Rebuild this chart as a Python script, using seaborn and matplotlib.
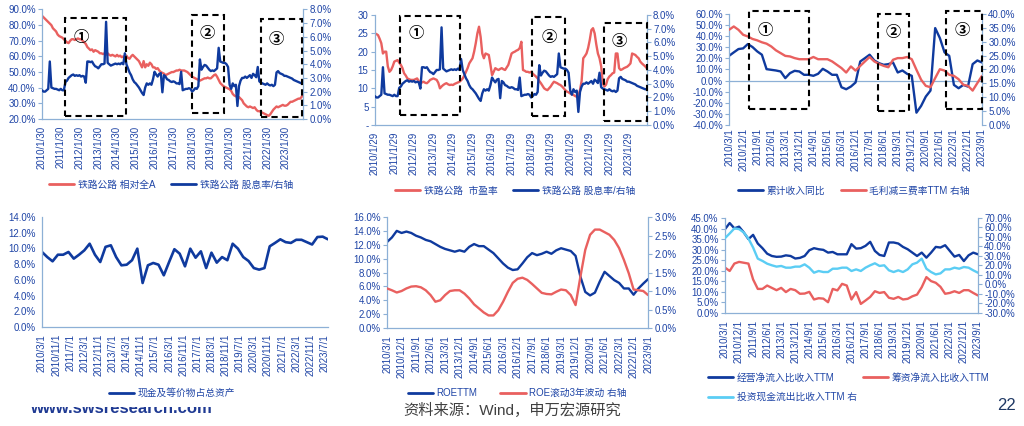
import numpy as np
import matplotlib
matplotlib.use('Agg')
import matplotlib.pyplot as plt
import seaborn as sns
from matplotlib.ticker import FuncFormatter
from matplotlib.patches import Rectangle
from matplotlib.lines import Line2D

# ---------------- data ----------------
# monthly 2010/1 .. 2023/12
years_p12 = ['2010', '2011', '2012', '2013', '2014', '2015', '2016', '2017',
             '2018', '2019', '2020', '2021', '2022', '2023']
p1_xlabels = [y + '/1/30' for y in years_p12]
p2_xlabels = [y + '/1/29' for y in years_p12]

rel_all_a = [  # 铁路公路 相对全A (%)
    86, 85, 84, 83, 82, 81, 80, 78, 77, 76, 74, 73,
    72.5, 72, 71, 70, 69, 68.5, 70, 71, 71, 70.5, 71, 71.5,
    71, 71, 70, 69, 68, 66, 65, 64, 64.5, 63, 64, 63.5,
    63, 62, 62, 61.5, 62, 61, 62, 61, 60.5, 61, 60.5, 60,
    61, 60, 60.5, 59.5, 60, 59, 60.5, 59, 58.5, 60, 61, 60,
    59, 58, 57, 55, 53, 57, 53, 55, 54, 56, 55, 53,
    53, 52, 52.5, 51, 50, 49.5, 49, 48, 48.5, 49, 49.5, 50,
    50, 50.5, 51, 51, 51.5, 51, 51, 51, 50.5, 50, 49, 48,
    47, 46.5, 46, 45.5, 45, 44.5, 45, 45.5, 46, 46, 46.5, 46,
    46, 47, 48, 48.5, 47, 45, 43, 42, 41, 40.5, 40, 39.5,
    39, 38, 36, 35, 34.5, 34, 34, 33, 32, 30, 29, 28,
    27.5, 28, 27.5, 27, 27.5, 26, 25, 25, 24.5, 24, 23.5, 23,
    22.5, 22, 23, 24.5, 26, 27, 28, 27.5, 28, 28.5, 29, 28.5,
    28.5, 29, 30, 31, 31, 31.5, 32, 32.5, 33, 33, 34, 36]

div_yield = [  # 铁路公路 股息率 (%)
    2.1, 2.0, 2.0, 2.1, 2.2, 4.2, 2.3, 2.25, 2.2, 2.2, 2.15, 2.1,
    2.2, 2.1, 2.1, 2.7, 2.8, 3.0, 3.1, 3.2, 3.25, 3.15, 3.2, 3.15,
    3.2, 3.1, 3.15, 3.1, 2.65, 4.2, 4.2, 4.15, 4.2, 4.0, 3.85, 3.8,
    3.7, 3.85, 4.0, 4.0, 4.05, 7.1, 4.1, 4.0, 3.9, 3.95, 4.0, 4.05,
    4.0, 4.05, 4.0, 4.1, 4.0, 4.8, 4.0, 3.7, 3.4, 3.2, 2.9, 2.7,
    2.6, 2.45, 2.3, 2.1, 1.9, 1.75, 2.3, 2.6, 2.5, 2.6, 2.5, 2.9,
    3.45, 3.25, 3.1, 3.3, 3.35, 1.95, 3.2, 3.1, 2.9, 2.85, 2.75, 2.7,
    2.75, 2.7, 2.6, 2.6, 2.55, 3.45, 2.1, 2.15, 2.2, 2.2, 2.25, 2.2,
    2.0, 2.1, 2.25, 2.2, 2.4, 4.35, 3.6, 3.8, 3.95, 3.9, 3.75, 3.6,
    3.5, 3.55, 3.5, 3.6, 3.7, 5.2, 4.2, 4.15, 4.1, 4.1, 4.0, 3.8,
    2.5, 2.2, 2.6, 2.4, 2.5, 0.95, 2.4, 2.8, 3.0, 3.0, 3.1, 3.0,
    3.1, 3.2, 3.0, 3.3, 3.2, 3.05, 3.8, 2.75, 2.65, 2.6, 2.55, 2.5,
    2.6, 2.5, 2.45, 2.5, 2.4, 2.5, 3.4, 3.5, 3.35, 3.3, 3.25, 3.15,
    3.15, 3.1, 3.05, 3.0, 2.95, 2.85, 2.8, 2.75, 2.7, 2.65, 2.6, 2.6]

pe_ratio = [  # 铁路公路 市盈率
    25, 24.8, 24.5, 23.5, 22.3, 19.5, 20, 20, 16, 14.5, 15, 16,
    17.3, 17.5, 17.7, 17, 16.4, 15.5, 14.1, 13.5, 12.7, 12.5, 12.3, 12.3,
    12.3, 12.5, 12.7, 12, 11.4, 11.6, 11.8, 11.5, 11.4, 11.8, 12.3, 12.5,
    12.7, 12.5, 12.3, 11.5, 10, 10.5, 10.9, 11.2, 11.4, 11.1, 10.9, 11,
    10.9, 11.2, 11.4, 11.6, 11.8, 12.2, 12.7, 13.5, 14.5, 15.5, 16.8, 17.5,
    18.2, 20, 22.3, 25, 26.8, 24, 19.5, 18.2, 19.5, 19.3, 19.1, 16.5,
    13.6, 14.5, 15.5, 15.2, 15, 15.3, 15.5, 15.2, 15, 15.7, 16.4, 18,
    19.5, 19.8, 20, 20.3, 20.5, 21, 22.7, 15, 14.8, 14.5, 14.5, 14.3,
    14.5, 14, 13.6, 13.2, 12.7, 12, 11.4, 10.7, 10, 9.7, 9.5, 10,
    10.5, 11.2, 11.8, 11.6, 11.4, 11.1, 10.9, 10.5, 10, 9.5, 9.1, 8.9,
    8.6, 8.4, 8.2, 7.9, 7.7, 8.0, 9.5, 12, 18.2, 18.8, 19.5, 21,
    23.2, 25.9, 26.4, 25, 22, 19.5, 18.2, 16, 11.4, 10.5, 11, 12.5,
    13.2, 13.6, 14.1, 14.3, 19.5, 19.5, 15.5, 15, 15.2, 15.5, 15.7, 15.9,
    16.3, 16.8, 19.5, 19.3, 19.1, 18.6, 18.2, 17.3, 16.8, 16.4, 16, 15.5]

# quarterly 2010/3 .. 2023/9 (55 points)
q_xlabels = ['2010/3/1', '2010/12/1', '2011/9/1', '2012/6/1', '2013/3/1',
             '2013/12/1', '2014/9/1', '2015/6/1', '2016/3/1', '2016/12/1',
             '2017/9/1', '2018/6/1', '2019/3/1', '2019/12/1', '2020/9/1',
             '2021/6/1', '2022/3/1', '2022/12/1', '2023/9/1']

rev_yoy = [  # 累计收入同比 (%)
    22.3, 25.4, 28.4, 29, 32.9, 30.2, 26.3, 23.3, 10.3, 9.7, 9.1, 8.2,
    2.2, 6.7, 8.8, 8.2, 5.2, 5.2, 4.3, 6.1, 10.6, 8.2, 5.2, 5.2,
    -6, -7.8, -5.4, -1.7, 17.2, 20.2, 23.3, 18.1, 15.7, 14.2, 14.8, 16.3,
    7.3, 9.1, 6.1, 4.3, -28.9, -22.8, -14.4, -9, 47.3, 38.3, 25.4, 22.3,
    -3.9, -6.9, -3.9, -5.4, 14.8, 18.1, 16.3]
margin_ttm = [  # 毛利减三费率TTM (%)
    34.3, 35.5, 34.3, 32.5, 31.9, 31, 30.5, 29.8, 29.3, 28.3, 26.9, 25.9,
    24.9, 24.7, 24.1, 23.7, 23.7, 23.7, 24.5, 23.7, 23.7, 23.7, 22.9, 21.7,
    20.5, 18.9, 21.1, 19.6, 21.3, 22.9, 24.5, 22.9, 22, 21.3, 20.8, 23.5,
    24.1, 24.1, 24.5, 23.7, 19.9, 16.3, 14.1, 13.6, 16.9, 20.1, 19.6, 18.1,
    17.7, 16.5, 14.5, 14.1, 12.4, 15.1, 17.7]

p4_xlabels = ['2010/3/1', '2010/11/1', '2011/7/1', '2012/3/1', '2012/11/1',
              '2013/7/1', '2014/3/1', '2014/11/1', '2015/7/1', '2016/3/1',
              '2016/11/1', '2017/7/1', '2018/3/1', '2018/11/1', '2019/7/1',
              '2020/3/1', '2020/11/1', '2021/7/1', '2022/3/1', '2022/11/1',
              '2023/7/1']
cash_ratio = [  # 现金及等价物占总资产 (%)
    9.55, 8.9, 8.36, 9.2, 9.2, 9.55, 8.7, 9.2, 9.76, 10.6, 9.2, 8.27,
    10.2, 10.4, 8.9, 7.85, 7.93, 8.5, 9.97, 5.6, 7.85, 8.15, 7.93, 6.58,
    8.27, 9.9, 9.33, 7.72, 9.97, 8.82, 9.63, 7.5, 9.46, 8.19, 8.9, 8.5,
    10.6, 9.97, 8.9, 8.4, 7.5, 7.3, 7.5, 10.27, 10.7, 11.16, 10.8, 10.7,
    11.1, 11.1, 10.8, 10.5, 11.45, 11.5, 11.16]

roe_ttm = [  # ROETTM (%)
    12.4, 13.05, 14.0, 13.7, 13.9, 13.7, 13.3, 13.05, 12.7, 12.5, 12.1, 11.7,
    11.4, 11.2, 11.0, 11.2, 11.0, 11.7, 12.1, 11.8, 11.8, 11.3, 10.8, 10.05,
    9.3, 8.7, 8.36, 8.46, 9.3, 10.2, 10.8, 10.5, 10.7, 11.0, 10.7, 11.2,
    11.5, 11.3, 11.1, 10.4, 7.4, 5.2, 4.7, 5.1, 6.7, 8.1, 7.5, 6.9,
    6.5, 5.7, 5.7, 4.8, 5.7, 6.4, 7.05]
roe_vol = [  # ROE滚动3年波动 (%)
    1.07, 1.02, 0.96, 1.0, 1.07, 1.12, 1.13, 1.1, 1.02, 0.89, 0.71, 0.75,
    0.89, 1.0, 1.02, 1.02, 0.93, 0.8, 0.64, 0.53, 0.42, 0.34, 0.34, 0.48,
    0.71, 0.98, 1.22, 1.33, 1.36, 1.3, 1.19, 1.07, 0.95, 0.92, 0.91, 0.98,
    1.04, 1.02, 0.89, 0.62, 1.39, 2.11, 2.52, 2.66, 2.66, 2.59, 2.52, 2.38,
    2.16, 1.84, 1.48, 1.04, 1.02, 1.0, 0.89]

op_cf = [  # 经营净流入比收入TTM (%)
    39.7, 42.6, 40.1, 40.9, 38.2, 35.0, 37.0, 32.9, 30.7, 28.1, 27.0, 26.6,
    26.7, 27.3, 27.0, 25.8, 26.1, 27.0, 29.7, 30.7, 30.2, 29.9, 28.6, 28.9,
    27.8, 27.8, 27.8, 32.6, 30.5, 30.7, 31.8, 33.7, 29.4, 27.5, 27.0, 33.4,
    33.4, 32.9, 31.3, 30.2, 28.6, 27.0, 28.6, 26.2, 28.6, 31.3, 31.0, 32.1,
    29.4, 26.7, 27.5, 24.6, 27.3, 28.6, 27.8]
fin_cf = [  # 筹资净流入比收入TTM (%)
    21.5, 19.9, 23.4, 24.2, 23.8, 23.4, 15.9, 11.4, 11.4, 13.0, 11.9, 10.8,
    11.9, 9.9, 11.4, 10.8, 9.1, 9.2, 10.0, 6.4, 7.0, 6.8, 5.1, 11.4,
    10.7, 13.8, 13.0, 6.4, 9.9, 4.3, 5.9, 7.6, 10.3, 9.5, 9.9, 7.2,
    6.7, 7.6, 6.4, 6.7, 7.9, 8.7, 12.2, 17.0, 15.1, 14.3, 12.4, 9.1,
    9.5, 10.3, 9.5, 10.8, 10.8, 9.5, 8.3]
inv_cf = [  # 投资现金流出比收入TTM (%)
    48.8, 53.7, 59.0, 58.3, 54.8, 48.4, 38.9, 27.2, 24.8, 21.9, 20.2, 18.8,
    19.5, 17.7, 17.7, 18.8, 18.8, 21.2, 17.7, 12.4, 14.2, 13.1, 13.1, 16.6,
    16.6, 17.7, 17.7, 14.2, 15.9, 14.2, 17.7, 20.2, 22.3, 19.5, 20.2, 14.9,
    13.1, 14.9, 13.1, 15.9, 21.2, 23.0, 27.2, 16.6, 13.1, 10.6, 11.7, 15.9,
    15.9, 17.7, 16.6, 18.4, 17.7, 14.9, 12.4]

# ---------------- style ----------------
sns.set_theme(style='white')
plt.rcParams['font.family'] = ['Liberation Sans', 'Noto Sans CJK SC', 'DejaVu Sans']
plt.rcParams['axes.unicode_minus'] = False

TXT = '#1F45A6'
SPINE = '#8DB0D6'
NAVY = '#0F3A9E'
RED = '#E9605F'
LBLUE = '#5BCDF4'
FS = 7

fig = plt.figure(figsize=(10.24, 4.26), dpi=100)
fig.patch.set_facecolor('white')


def pct(dec):
    return FuncFormatter(lambda v, p: f'{v:.{dec}f}%')


def style_y(ax, lo, hi, step, fmt):
    ax.set_ylim(lo, hi)
    ax.set_yticks(np.arange(lo, hi + step / 2, step))
    ax.yaxis.set_major_formatter(fmt)
    ax.tick_params(axis='y', length=3, width=0.8, color=SPINE, labelcolor=TXT,
                   labelsize=FS, pad=1.5, direction='out')
    ax.set_ylabel('')


def style_x(ax, lo, hi, ticks, labels):
    ax.set_xlim(lo, hi)
    ax.set_xticks(ticks)
    ax.set_xticklabels(labels, rotation=90)
    ax.tick_params(axis='x', length=3, width=0.8, color=SPINE, labelcolor=TXT,
                   labelsize=FS, pad=2, direction='out')
    ax.set_xlabel('')


def spines(ax, left=True, right=False, bottom=True):
    for k, v in (('left', left), ('right', right), ('bottom', bottom), ('top', False)):
        ax.spines[k].set_visible(v)
        ax.spines[k].set_color(SPINE)
        ax.spines[k].set_linewidth(0.9)


def line(ax, x, y, color, lw=1.7):
    sns.lineplot(x=x, y=y, ax=ax, color=color, linewidth=lw, legend=False,
                 sort=False, estimator=None)


def boxes(ax, rects, marks):
    for (x0, x1, y0, y1) in rects:
        ax.add_patch(Rectangle((x0, y0), x1 - x0, y1 - y0, transform=ax.transAxes,
                               fill=False, edgecolor='black', linewidth=1.5,
                               linestyle=(0, (3, 2)), clip_on=False, zorder=5))
    for (tx, ty, s) in marks:
        ax.text(tx, ty, s, transform=ax.transAxes, ha='center', va='center',
                fontsize=11, fontweight='bold', color='black',
                family=['Noto Sans CJK SC', 'DejaVu Sans'], zorder=6)


def legend(handles, labels, cx, cy, ncol, loc='center', colsp=1.6, lsp=0.6):
    fig.legend(handles, labels, loc=loc, bbox_to_anchor=(cx, cy),
               bbox_transform=fig.transFigure, ncol=ncol, frameon=False,
               fontsize=FS, handlelength=2.6, handletextpad=0.35,
               columnspacing=colsp, labelspacing=lsp, labelcolor=TXT,
               borderaxespad=0, borderpad=0)


def h(color):
    return Line2D([], [], color=color, linewidth=2.0)


marks3 = ['①', '②', '③']
m_idx = np.arange(len(rel_all_a))
q_idx = np.arange(len(rev_yoy))
q_ticks = np.arange(0, len(rev_yoy), 3)

# ---------------- panel 1 ----------------
ax1 = fig.add_axes([0.041, 0.7207, 0.255, 0.257])
ax1r = ax1.twinx()
line(ax1, m_idx, rel_all_a, RED)
line(ax1r, m_idx, div_yield, NAVY)
style_y(ax1, 20, 90, 10, pct(1))
style_y(ax1r, 0, 8, 1, pct(1))
style_x(ax1, 0, len(m_idx) - 1, np.arange(0, len(m_idx), 12), p1_xlabels)
spines(ax1, True, False, True)
spines(ax1r, False, True, False)
boxes(ax1r, [(0.090, 0.320, 0.024, 0.918), (0.573, 0.697, 0.055, 0.952),
             (0.837, 0.997, 0.018, 0.909)],
      [(0.150, 0.752, marks3[0]), (0.634, 0.788, marks3[1]), (0.896, 0.730, marks3[2])])
legend([h(RED), h(NAVY)], ['铁路公路 相对全A', '铁路公路 股息率/右轴'], 0.167, 0.566, 2)

# ---------------- panel 2 ----------------
ax2 = fig.add_axes([0.366, 0.7066, 0.2656, 0.2582])
ax2r = ax2.twinx()
line(ax2, m_idx, pe_ratio, RED)
line(ax2r, m_idx, div_yield, NAVY)
style_y(ax2, 0, 30, 5, FuncFormatter(lambda v, p: '-' if v == 0 else f'{v:.0f}'))
style_y(ax2r, 0, 8, 1, pct(1))
style_x(ax2, 0, len(m_idx) - 1, np.arange(0, len(m_idx), 12), p2_xlabels)
spines(ax2, True, False, True)
spines(ax2r, False, True, False)
boxes(ax2r, [(0.094, 0.315, 0.091, 0.994), (0.579, 0.699, 0.082, 0.979),
             (0.844, 1.0, 0.039, 0.930)],
      [(0.153, 0.833, marks3[0]), (0.640, 0.803, marks3[1]), (0.899, 0.767, marks3[2])])
legend([h(RED), h(NAVY)], ['铁路公路  市盈率', '铁路公路 股息率/右轴'], 0.503, 0.552, 2)

# ---------------- panel 3 ----------------
ax3 = fig.add_axes([0.712, 0.7066, 0.247, 0.2606])
ax3r = ax3.twinx()
ax3.axhline(0, color=SPINE, linewidth=0.9, zorder=1)
line(ax3, q_idx, rev_yoy, NAVY)
line(ax3r, q_idx, margin_ttm, RED)
style_y(ax3, -40, 60, 10, pct(1))
style_y(ax3r, 0, 40, 5, pct(1))
style_x(ax3, 0, len(q_idx) - 1, q_ticks, q_xlabels)
ax3.tick_params(axis='x', length=0)
spines(ax3, True, False, False)
spines(ax3r, False, True, False)
boxes(ax3r, [(0.079, 0.317, 0.142, 1.024), (0.588, 0.713, 0.127, 1.003),
             (0.857, 1.0, 0.142, 1.024)],
      [(0.141, 0.858, marks3[0]), (0.650, 0.837, marks3[1]), (0.921, 0.852, marks3[2])])
legend([h(NAVY), h(RED)], ['累计收入同比', '毛利减三费率TTM 右轴'], 0.834, 0.552, 2)

# ---------------- panel 4 ----------------
ax4 = fig.add_axes([0.041, 0.2324, 0.2793, 0.2582])
c_months = 2 + 3 * np.arange(len(cash_ratio))
line(ax4, c_months, cash_ratio, NAVY, lw=1.9)
style_y(ax4, 0, 14, 2, pct(1))
style_x(ax4, 2, c_months[-1], 2 + 8 * np.arange(len(p4_xlabels)), p4_xlabels)
spines(ax4, True, False, True)
legend([h(NAVY)], ['现金及等价物占总资产'], 0.168, 0.077, 1)

# ---------------- panel 5 ----------------
ax5 = fig.add_axes([0.378, 0.230, 0.2549, 0.2606])
ax5r = ax5.twinx()
line(ax5, q_idx, roe_ttm, NAVY)
line(ax5r, q_idx, roe_vol, RED)
style_y(ax5, 0, 16, 2, pct(1))
style_y(ax5r, 0, 3, 0.5, pct(1))
style_x(ax5, 0, len(q_idx) - 1, q_ticks, q_xlabels)
spines(ax5, True, False, True)
spines(ax5r, False, True, False)
legend([h(NAVY), h(RED)], ['ROETTM', 'ROE滚动3年波动 右轴'], 0.505, 0.077, 2, colsp=2.4)

# ---------------- panel 6 ----------------
ax6 = fig.add_axes([0.708, 0.2653, 0.247, 0.223])
ax6r = ax6.twinx()
line(ax6, q_idx, fin_cf, RED)
line(ax6, q_idx, op_cf, NAVY)
line(ax6r, q_idx, inv_cf, LBLUE)
style_y(ax6, 0, 45, 5, pct(1))
style_y(ax6r, -30, 70, 10, pct(1))
style_x(ax6, 0, len(q_idx) - 1, q_ticks, q_xlabels)
spines(ax6, True, False, True)
spines(ax6r, False, True, False)
# column-major fill: col 1 = first two, col 2 = third
legend([h(NAVY), h(LBLUE), h(RED)],
       ['经营净流入比收入TTM', '投资现金流出比收入TTM 右', '筹资净流入比收入TTM'],
       0.6914, 0.125, 2, loc='upper left', colsp=0.6, lsp=0.95)

# ---------------- footer ----------------
fig.text(0.5, (426 - 410) / 426, '资料来源：Wind，申万宏源研究', ha='center', va='center',
         fontsize=11, color='#404040')
fig.text(1007 / 1024, (426 - 406) / 426, '22', ha='center', va='center',
         fontsize=12, color='#1F3864')
ax_web = fig.add_axes([0.0, (426 - 416) / 426, 0.3, 9 / 426])
ax_web.axis('off')
t = ax_web.text(30 / (0.3 * 1024), 0.36, 'www.swsresearch.com', transform=ax_web.transAxes,
                ha='left', va='baseline', fontsize=12, fontweight='bold',
                color='#1F3A93', clip_on=True)
t.set_clip_box(ax_web.bbox)

fig.savefig('out.png', dpi=100, facecolor='white')
